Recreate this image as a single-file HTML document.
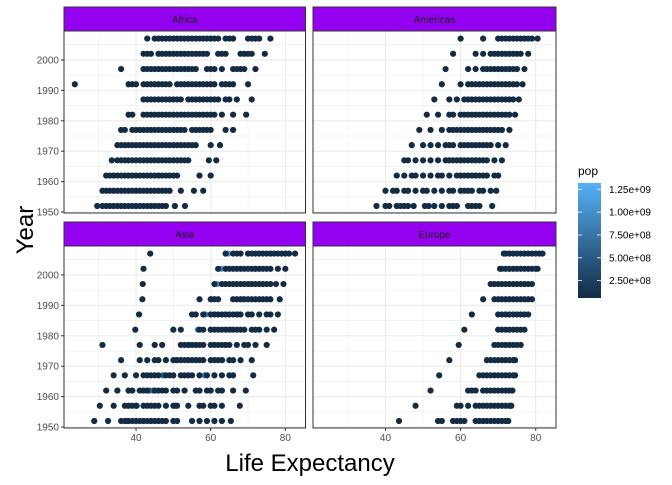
<!DOCTYPE html>
<html><head><meta charset="utf-8"><style>
body{margin:0;background:#fff;font-family:"Liberation Sans",sans-serif}
</style></head><body>
<svg id="c" width="672" height="480" xmlns="http://www.w3.org/2000/svg"></svg>
<script>
const years=[1952,1957,1962,1967,1972,1977,1982,1987,1992,1997,2002,2007];
const continents=["Africa","Americas","Asia","Europe"];
const xTicks=[40,60,80];
const yTicks=[1950,1960,1970,1980,1990,2000];
const legendTicks=[250000000,500000000,750000000,1000000000,1250000000];
const legendLabels=["2.50e+08","5.00e+08","7.50e+08","1.00e+09","1.25e+09"];
const africaLife=[
[29.6,31,32,33,34,35,36,37,38,39,40,41,42,43,44,45,46,47,48,50.4,53.1],
[31,32,33,34,35,36,37,38,39,40,41,42,43,44,45,46,47,48,49,52,55.5,58],
[32,33,34,35,36,37,38,39,40,41,42,43,44,45,46,47,48,49,50,51,57,60],
[33.5,35,36,37,38,39,40,41,42,43,44,45,46,47,48,49,50,51,52,53,54,59.5,61.5],
[35,36,37,38,39,40,41,42,43,44,45,46,47,48,49,50,51,52,53,54,55,56,60,62.5],
[36,37,39,40,41,42,43,44,45,46,47,48,49,50,51,52,53,55,56,57,58,59,60,64,66],
[38,39,42,43,44,45,46,47,48,49,50,51,52,53,54,55,56,57,58,59,60,61,63,66,69.5],
[42,43,44,45,46,47,48,49,50,51,52,54,55,56,57,58,59,60,61,62,64,65,67,71],
[23.6,38,39,40,42,43,44,45,46,47,48,49,51,52,53,54,55,56,57,58,59,60,61,63,64,65,66,70],
[36,42,43,44,45,46,47,48,49,50,51,52,53,54,55,56,59,60,61,63,66,67,68,69,72],
[42,43,44,46,47,48,49,50,51,52,53,54,55,56,57,58,59,62,63,64,68,69,70,71,74.5],
[43,45,46,47,48,49,50,51,52,53,54,55,56,57,58,59,60,61,62,64,65,66,70,71,72,73,76]];
const americasLife=[
[37.6,40,41,43,44,45,46,47.5,50.5,51.5,53,55,57,58,59,62,63,64,65,68.4],
[40,42,43,45,46,48,50,51,53,55,57,58,60,61,62,63,65,66,68,69.5],
[43,45,47,48,50,52,54,55,57,59,60,61,62,63,64,65,66,67,69,70],
[45,46,48,50,52,54,56,57,58,59,60,61,62,63,64,65,66,67,69,71],
[47,50,52,54,56,57,58,60,61,62,63,64,65,66,67,68,70,72],
[49,52,55,57,58,59,60,61,62,63,64,65,66,67,68,69,70,71,73],
[51,54,57,58,60,61,62,63,64,65,66,67,68,69,70,71,72,73,74.5],
[53,57,59,61,62,63,64,65,66,67,68,69,70,71,72,73,74,75.5],
[55,60,62,63,64,65,66,67,68,69,70,71,72,73,74,75,76.5],
[56,62,64,66,67,68,69,70,71,72,73,74,75,77],
[58,64,66,68,69,70,71,72,73,74,75,76,78],
[60,66,70,71,72,73,74,75,76,77,78,79,80.5]];
const asiaLife=[
[28.8,32.5,36,37,38,39,40,41,42,43,44,45,46,47,48,50,51,55,57,59,61,63,65.4],
[30.3,34,37,38,39,40,42,43,44,45,46,48,50,51,54,57,58,60,61,63,67.8],
[32,35,38,39,41,42,43,45,46,47,48,50,51,53,56,57,59,60,62,63,66,69.4],
[34,37,40,42,43,44,45,46,48,49,50,52,53,54,55,57,59,61,63,65,66,71.4],
[36,41,43,45,46,48,50,51,52,53,54,55,56,57,58,60,61,62,63,65,66,68,71],
[31,41,45,47,52,53,54,55,56,57,58,60,61,62,63,64,65,67,69,70,72,75],
[39.8,50,52,57,58,60,61,62,63,64,65,66,67,68,69,71,72,73,75,77],
[40.8,55,56,58,60,61,62,63,64,65,66,67,68,70,71,73,75,76,78],
[41.7,57,60,61,62,66,67,68,69,70,71,72,73,74,75,76,78.5],
[41.8,61,63,64,65,66,67,68,69,70,71,72,73,74,75,76,77.5,79.5],
[42,62,64,65,66,67,68,69,70,71,72,73,74,75,76,78,80],
[43.8,64,66,67,68,70,71,72,73,74,75,76,77,78,79,80,81,82.6]];
const europeLife=[
[43.6,54,55,58,59,60,61,64,65,66,67,68,69,70,71,72,72.7],
[48,59,60,62,64,65,66,67,68,69,70,71,72,73,73.5],
[52,62,63,64,66,67,68,69,70,71,72,73,73.8],
[54.3,65,66,67,68,69,70,71,72,73,74,74.5],
[57,67,68,69,70,71,72,73,74,74.5],
[59.5,69,70,71,72,73,74,75,76],
[61,70,71,72,73,74,75,76,77],
[63,70,71,72,73,74,75,76,77,78],
[66,69,70,71,72,73,74,75,76,77,78,79],
[68,69,70,71,72,73,74,75,76,77,78,79],
[70.5,71,72,73,74,75,76,77,78,79,80,80.5],
[71.5,72,73,74,75,76,77,78,79,80,81,81.8]];
const chinaLife=[44,50.5,44.5,58.4,63.1,64,65.5,67.3,68.7,70.4,72,73];
const chinaPop=[556e6,637e6,666e6,755e6,862e6,943e6,1000e6,1084e6,1165e6,1230e6,1280e6,1319e6];
const indiaLife=[37.4,40.2,43.6,47.2,50.7,54.2,56.6,58.6,60.2,61.8,62.9,64.7];
const indiaPop=[372e6,409e6,454e6,506e6,567e6,634e6,708e6,788e6,872e6,959e6,1034e6,1110e6];
const lifeData={Africa:africaLife,Americas:americasLife,Asia:asiaLife,Europe:europeLife};

const svg=document.getElementById('c');
const NS="http://www.w3.org/2000/svg";
function mk(t,a,p){const e=document.createElementNS(NS,t);for(const k in a)e.setAttribute(k,a[k]);(p||svg).appendChild(e);return e;}
const cols=[[64,305.5],[313,556]];
const rows=[[31,213],[246,428]];
const xmin=20.7,xmax=85.4,ymin=1949.7,ymax=2009.5;
function lerp(a,b,t){return a+(b-a)*t;}
function col(p){const t=Math.min(1,p/1318683096);
 const r=Math.round(lerp(0x13,0x56,t)),g=Math.round(lerp(0x2B,0xB1,t)),b=Math.round(lerp(0x43,0xF7,t));return `rgb(${r},${g},${b})`;}
continents.forEach((cn,i)=>{
 const [x0,x1]=cols[i%2],[y0,y1]=rows[Math.floor(i/2)];
 const sx=v=>x0+(v-xmin)/(xmax-xmin)*(x1-x0);
 const sy=v=>y1-(v-ymin)/(ymax-ymin)*(y1-y0);
 const g=mk('g',{});
 
 
 mk('rect',{x:x0,y:y0,width:x1-x0,height:y1-y0,fill:'#fff'},g);
 for(let v=30;v<=80;v+=10){const X=sx(v);mk('line',{x1:X,x2:X,y1:y0,y2:y1,stroke:'#ebebeb','stroke-width':v%20==0?1.1:0.55},g);}
 for(let v=1950;v<=2005;v+=5){const Y=sy(v);mk('line',{x1:x0,x2:x1,y1:Y,y2:Y,stroke:'#ebebeb','stroke-width':v%10==0?1.1:0.55},g);}
 if(cn==="Asia"){years.forEach((yr,yi)=>{
  [[indiaLife,indiaPop],[chinaLife,chinaPop]].forEach(([L,P])=>{
   const c=mk('circle',{cx:sx(L[yi]),cy:sy(yr),r:3.1,fill:col(P[yi])},g);
   
   
  });});}
 lifeData[cn].forEach((row,yi)=>row.forEach(v=>{
  const c=mk('circle',{cx:sx(v),cy:sy(years[yi]),r:3.1,fill:'#132B43'},g);
  
  
 }));
 mk('rect',{x:x0,y:y0,width:x1-x0,height:y1-y0,fill:'none',stroke:'#333','stroke-width':1},g);
 const s=mk('rect',{x:x0,y:y0-24,width:x1-x0,height:24,fill:'#9400F0',stroke:'#333','stroke-width':1});
 
 
 const st=mk('text',{x:(x0+x1)/2,y:y0-8,'text-anchor':'middle','font-size':10,fill:'#1a1a1a'});st.textContent=cn;
 
 
 if(i%2==0){yTicks.forEach(v=>{const Y=sy(v);mk('line',{x1:x0-3,x2:x0,y1:Y,y2:Y,stroke:'#333'});
  const t=mk('text',{x:x0-5,y:Y+3.5,'text-anchor':'end','font-size':10,fill:'#4d4d4d'});t.textContent=v;
  
  });}
 if(i>=2){xTicks.forEach(v=>{const X=sx(v);mk('line',{x1:X,x2:X,y1:y1,y2:y1+3,stroke:'#333'});
  const t=mk('text',{x:X,y:y1+13,'text-anchor':'middle','font-size':10,fill:'#4d4d4d'});t.textContent=v;
  
  });}
});
const xt=mk('text',{x:310,y:471,'text-anchor':'middle','font-size':24,fill:'#000'});xt.textContent='Life Expectancy';


const yt=mk('text',{x:0,y:0,'text-anchor':'middle','font-size':24,fill:'#000',transform:'translate(33,230) rotate(-90)'});yt.textContent='Year';


const defs=mk('defs',{});const lg=mk('linearGradient',{id:'gr',x1:0,y1:1,x2:0,y2:0},defs);
mk('stop',{offset:0,'stop-color':'#132B43'},lg);mk('stop',{offset:1,'stop-color':'#56B1F7'},lg);
const lt=mk('text',{x:578,y:175,'font-size':12,fill:'#000'});lt.textContent='pop';


const bar=mk('rect',{x:578,y:183,width:23,height:115,fill:'url(#gr)'});


const ly=p=>298-(p-6e7)/(1318683096-6e7)*115;
legendTicks.forEach((p,k)=>{const Y=ly(p);
 mk('line',{x1:578,x2:582,y1:Y,y2:Y,stroke:'#fff','stroke-width':0.8});
 mk('line',{x1:597,x2:601,y1:Y,y2:Y,stroke:'#fff','stroke-width':0.8});
 const t=mk('text',{x:609,y:Y+3.5,'font-size':10,fill:'#000'});t.textContent=legendLabels[k];
 
 });
</script>
</body></html>
